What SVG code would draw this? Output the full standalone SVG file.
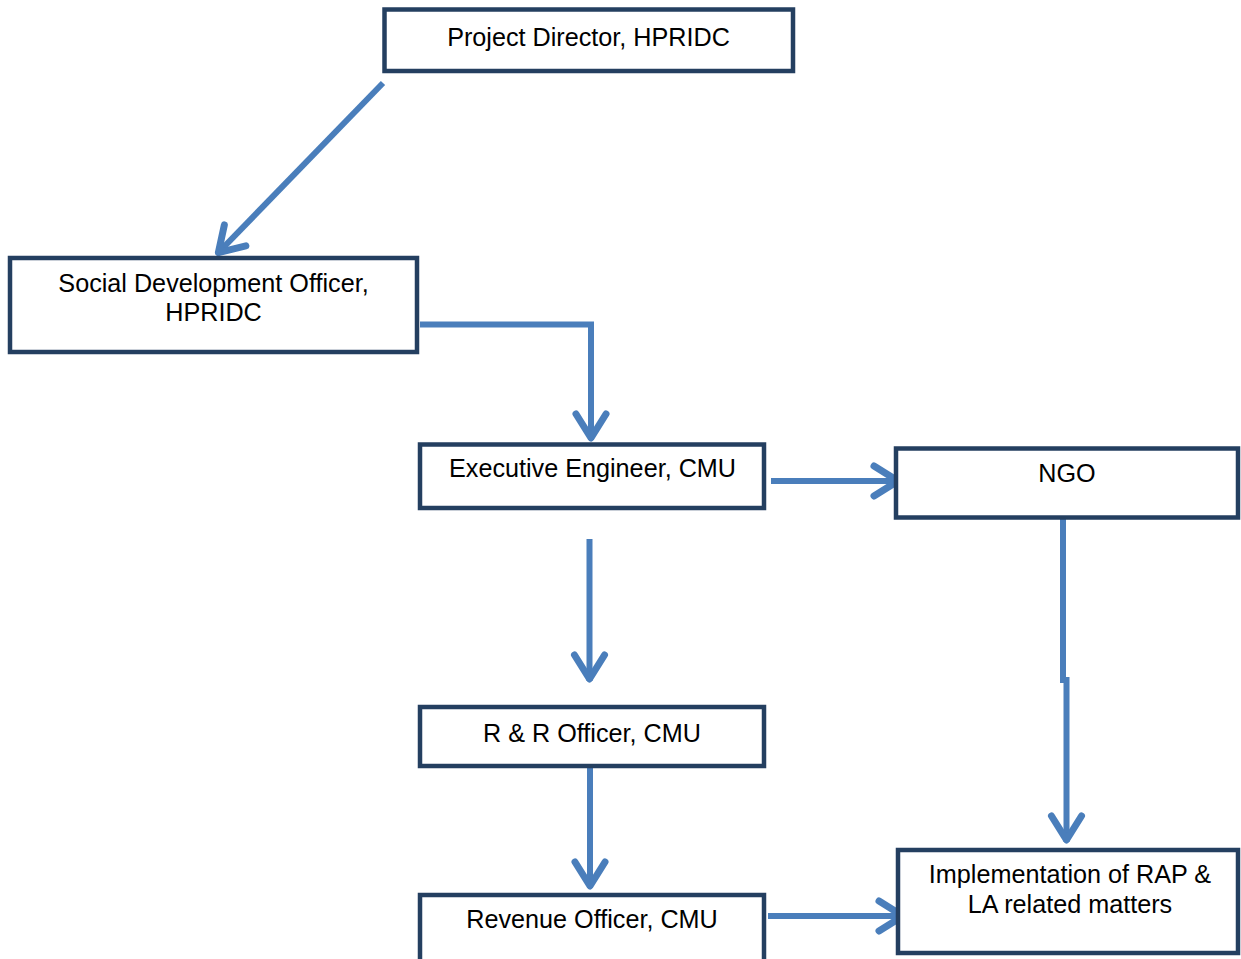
<svg xmlns="http://www.w3.org/2000/svg" width="1241" height="959" viewBox="0 0 1241 959">
  <style>
    .box { fill: #ffffff; stroke: #243F60; stroke-width: 4.5; }
    .lbl { font-family: "Liberation Sans", Arial, sans-serif; font-size: 25.2px; fill: #000000; text-anchor: middle; }
    .conn { fill: none; stroke: #4A7EBB; stroke-width: 6; stroke-linejoin: miter; }
    .arr { marker-end: url(#chev); }
  </style>
  <defs>
    <marker id="chev" markerUnits="userSpaceOnUse" viewBox="-40 -30 50 60" refX="0" refY="0" markerWidth="50" markerHeight="60" orient="auto" overflow="visible">
      <path d="M -26,-15 L -2,0 L -26,15" fill="none" stroke="#4A7EBB" stroke-width="7" stroke-linecap="round" stroke-linejoin="round"/>
    </marker>
  </defs>
  <rect width="1241" height="959" fill="#ffffff"/>

  <g id="connectors">
    <path class="conn arr" d="M 383,83 L 217,254"/>
    <path class="conn arr" d="M 420,324.5 L 591,324.5 L 591,440"/>
    <path class="conn arr" d="M 771,481 L 900,481"/>
    <path class="conn arr" d="M 589.5,539 L 589.5,681"/>
    <path class="conn" d="M 1063,517 L 1063,683"/>
    <path class="conn arr" d="M 1066.5,677 L 1066.5,842"/>
    <path class="conn arr" d="M 590,768 L 590,888"/>
    <path class="conn arr" d="M 768,916 L 905,916"/>
  </g>

  <g id="n-project-director">
    <rect class="box" x="384.5" y="9.5" width="408.5" height="61.5"/>
    <text class="lbl" x="588.5" y="45.5">Project Director, HPRIDC</text>
  </g>
  <g id="n-social-dev">
    <rect class="box" x="10" y="258" width="407" height="94"/>
    <text class="lbl" x="213.5" y="292">Social Development Officer,</text>
    <text class="lbl" x="213.5" y="321">HPRIDC</text>
  </g>
  <g id="n-exec-eng">
    <rect class="box" x="420" y="444.5" width="344" height="63.5"/>
    <text class="lbl" x="592.5" y="477">Executive Engineer, CMU</text>
  </g>
  <g id="n-ngo">
    <rect class="box" x="896" y="448.5" width="342" height="69"/>
    <text class="lbl" x="1067" y="481.5">NGO</text>
  </g>
  <g id="n-rr-officer">
    <rect class="box" x="420" y="707" width="344" height="59"/>
    <text class="lbl" x="592" y="742">R &amp; R Officer, CMU</text>
  </g>
  <g id="n-revenue">
    <rect class="box" x="420" y="895" width="344" height="80"/>
    <text class="lbl" x="592" y="928">Revenue Officer, CMU</text>
  </g>
  <g id="n-implementation">
    <rect class="box" x="898" y="850" width="340" height="103"/>
    <text class="lbl" x="1070" y="883">Implementation of RAP &amp;</text>
    <text class="lbl" x="1070" y="912.5">LA related matters</text>
  </g>
</svg>
